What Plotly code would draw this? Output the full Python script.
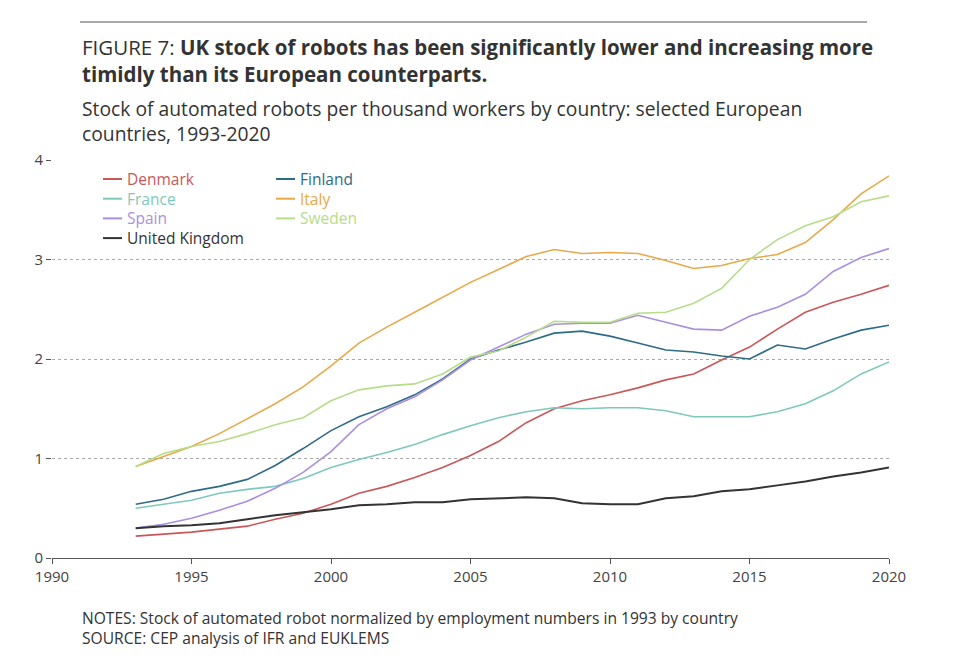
import plotly.graph_objects as go

years = list(range(1993, 2021))
denmark = [0.22,0.24,0.26,0.29,0.32,0.39,0.45,0.54,0.65,0.72,0.81,0.91,1.03,1.17,1.36,1.50,1.58,1.64,1.71,1.79,1.85,1.99,2.12,2.30,2.47,2.57,2.65,2.74]
finland = [0.54,0.59,0.67,0.72,0.79,0.93,1.10,1.28,1.42,1.52,1.64,1.80,2.00,2.09,2.17,2.26,2.28,2.23,2.16,2.09,2.07,2.03,2.00,2.14,2.10,2.20,2.29,2.34]
france = [0.50,0.54,0.58,0.65,0.69,0.72,0.80,0.91,0.99,1.06,1.14,1.24,1.33,1.41,1.47,1.51,1.50,1.51,1.51,1.48,1.42,1.42,1.42,1.47,1.55,1.68,1.85,1.97]
italy = [0.92,1.02,1.12,1.25,1.40,1.55,1.72,1.93,2.16,2.32,2.47,2.62,2.77,2.90,3.03,3.10,3.06,3.07,3.06,2.99,2.91,2.94,3.01,3.05,3.17,3.40,3.66,3.84]
spain = [0.30,0.34,0.40,0.48,0.57,0.70,0.86,1.07,1.34,1.50,1.62,1.79,1.99,2.12,2.25,2.35,2.36,2.36,2.44,2.37,2.30,2.29,2.43,2.52,2.65,2.88,3.02,3.11]
sweden = [0.92,1.05,1.12,1.17,1.25,1.34,1.41,1.58,1.69,1.73,1.75,1.85,2.02,2.08,2.22,2.38,2.37,2.37,2.46,2.47,2.56,2.71,3.00,3.20,3.34,3.43,3.58,3.64]
uk = [0.30,0.32,0.33,0.35,0.39,0.43,0.46,0.49,0.53,0.54,0.56,0.56,0.59,0.60,0.61,0.60,0.55,0.54,0.54,0.60,0.62,0.67,0.69,0.73,0.77,0.82,0.86,0.91]

series = [
    ('Denmark', denmark, '#c9575a'),
    ('Finland', finland, '#2f6b85'),
    ('France', france, '#7fc8bd'),
    ('Italy', italy, '#e8a94a'),
    ('Spain', spain, '#a98fe0'),
    ('Sweden', sweden, '#b7dc8a'),
    ('United Kingdom', uk, '#333333'),
]
FONT = 'Open Sans'

fig = go.Figure()
for name, vals, col in series:
    fig.add_trace(go.Scatter(x=years, y=vals, mode='lines', name=name,
                             line=dict(color=col, width=2 if name == 'United Kingdom' else 1.6)))

# page renders with an ~8px offset, so work in target pixels shifted by 8
OFF = 8
L, T, R, B = 52 - OFF, 160 - OFF, 889 - OFF, 558 - OFF
W, H = R - L, B - T
def px(x): return (x - OFF - L) / W
def py(y): return (B - (y - OFF)) / H

shapes = [dict(type='line', xref='paper', yref='paper', x0=px(80), x1=px(867),
               y0=py(22), y1=py(22), line=dict(color='#555', width=1))]
annots = []
for i, (name, vals, col) in enumerate(series):
    r, c = divmod(i, 2)
    lx = 103 if c == 0 else 276
    ly = 179 + r * 19.7
    shapes.append(dict(type='line', xref='paper', yref='paper', x0=px(lx), x1=px(lx + 19),
                       y0=py(ly), y1=py(ly), line=dict(color=col, width=2)))
    annots.append(dict(xref='paper', yref='paper', x=px(lx + 22), y=py(ly), text=name,
                       showarrow=False, xanchor='left', yanchor='middle',
                       font=dict(size=15.5, color=col)))

annots += [
    dict(xref='paper', yref='paper', x=px(80), y=py(60), xanchor='left', yanchor='middle', showarrow=False,
         text='FIGURE 7: <b>UK stock of robots has been significantly lower and increasing more</b><br><b>timidly than its European counterparts.</b>',
         align='left', font=dict(size=20.5, color='#333', family=FONT)),
    dict(xref='paper', yref='paper', x=px(80), y=py(121), xanchor='left', yanchor='middle', showarrow=False,
         text='Stock of automated robots per thousand workers by country: selected European<br>countries, 1993-2020',
         align='left', font=dict(size=19.3, color='#333', family=FONT)),
    dict(xref='paper', yref='paper', x=px(80), y=py(628), xanchor='left', yanchor='middle', showarrow=False,
         text='NOTES: Stock of automated robot normalized by employment numbers in 1993 by country<br>SOURCE: CEP analysis of IFR and EUKLEMS',
         align='left', font=dict(size=15.6, color='#333', family=FONT)),
]

fig.update_layout(
    width=959, height=658, template='plotly_white',
    margin=dict(l=L, r=959 - R, t=T, b=658 - B),
    showlegend=False, shapes=shapes, annotations=annots,
    font=dict(family=FONT, color='#444', size=15),
    plot_bgcolor='white', paper_bgcolor='white',
)
fig.update_xaxes(range=[1990, 2020], dtick=5, showgrid=False, showline=True, linecolor='#555',
                 ticks='outside', ticklen=5, tickcolor='#555', zeroline=False)
fig.update_yaxes(range=[0, 4], dtick=1, showgrid=True, gridcolor='#aaa', griddash='dot',
                 zeroline=False, showline=False, ticks='outside', ticklen=5, tickcolor='#555')

fig.write_html('out.html')
